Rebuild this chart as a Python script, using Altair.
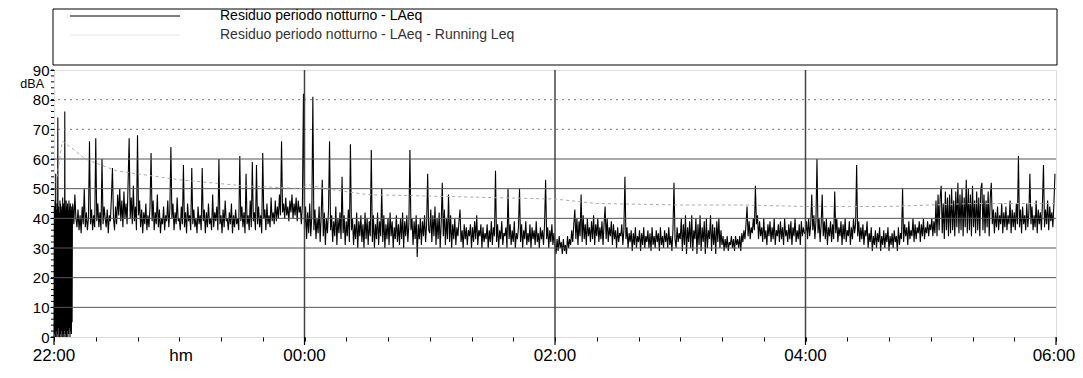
import altair as alt
import pandas as pd

# ---- LAeq samples (dBA) ----
# first minutes at 10-second steps (instrument start-up block)
start_block = [0,44,1,46,0,55,2,43,0,45,1,74,0,44,3,42,0,46,1,45,
               0,43,2,44,0,47,1,45,0,44,2,76,0,43,1,46,0,44,2,45,
               0,43,1,46,3,44,0,45,2,43,1,44,5,42]
# rest of the night at 30-second steps; h22 starts at 22:09, others on the hour
h22 = [45,38,48,40,37,43,36,41,35,44,38,50,37,42,36,40,66,38,
       43,36,41,37,67,39,45,37,42,36,60,38,44,40,37,43,35,41,
       39,47,57,40,36,44,38,48,41,50,39,46,37,49,40,45,38,52,
       67,40,47,38,51,39,44,36,68,41,46,37,43,35,42,38,45,36,
       41,37,44,62,39,46,36,42,38,48,37,43,35,40,38,44,36,41,
       39,46,37,43,64,40,45,36,42,38,47,39]
h23 = [40,36,44,38,58,37,42,35,45,39,41,36,57,38,43,37,40,35,
       44,38,41,36,57,39,43,35,42,37,45,38,40,36,48,37,42,39,
       44,36,60,38,41,35,43,37,46,39,40,36,42,38,45,35,41,37,
       43,38,40,36,61,39,44,37,42,35,55,38,41,36,46,37,59,39,
       42,36,58,38,44,37,41,35,62,40,43,36,45,38,41,37,47,39,
       42,38,46,39,44,40,48,41,66,42,45,40,47,41,44,39,46,42,
       48,40,45,41,47,39,46,42,44,38,45,82]
h00 = [36,44,33,42,35,45,34,41,81,36,43,33,40,35,44,32,41,53,
       34,42,31,40,35,43,66,36,41,32,39,34,44,31,40,35,42,33,
       54,35,41,31,39,34,43,32,65,36,40,31,38,33,42,30,39,34,
       41,32,38,30,42,33,40,31,39,34,63,32,41,30,38,33,42,31,
       39,34,50,32,41,30,38,33,40,31,42,34,39,30,37,33,41,32,
       38,31,40,33,42,30,39,34,41,32,38,63,36,40,31,39,33,41,
       27,38,33,40,31,39,34,41,32,38,55,36]
h01 = [35,43,32,41,34,44,31,40,33,42,30,39,52,34,43,31,40,33,
       48,32,41,30,38,33,40,31,37,34,39,43,32,36,30,38,33,37,
       31,36,34,38,30,37,32,39,33,41,31,36,34,38,30,37,32,35,
       33,38,30,36,32,39,31,37,34,56,32,38,30,36,33,39,31,35,
       34,37,30,50,33,38,31,36,32,39,30,35,33,37,50,32,38,30,
       36,33,39,31,35,32,38,30,37,33,36,31,39,32,35,30,37,33,
       36,31,38,53,33,37,30,36,32,38,31,35]
h02 = [31,28,33,29,34,30,32,28,33,29,31,28,34,30,33,31,36,32,
       38,43,33,40,31,39,34,48,32,41,33,38,31,40,34,37,32,39,
       33,41,31,38,34,40,32,37,33,39,31,38,44,33,40,32,37,34,
       39,31,38,33,36,30,37,32,35,34,38,31,36,54,33,37,30,35,
       32,36,29,35,31,37,30,34,32,36,29,35,31,37,30,34,32,36,
       30,35,29,37,31,34,30,36,32,35,29,37,31,34,30,36,32,35,
       30,37,31,34,29,36,52,33,30,37,32,35]
h03 = [33,40,29,38,31,41,28,37,32,39,30,41,29,36,33,40,28,38,
       31,41,29,37,32,39,28,40,30,36,33,41,29,38,31,37,28,39,
       32,40,30,36,31,34,29,33,30,34,29,32,31,34,30,33,29,34,
       31,33,30,34,29,35,32,36,33,38,44,34,39,33,37,35,40,36,
       51,38,41,33,39,34,37,32,40,33,36,31,38,34,39,32,37,33,
       40,31,36,34,38,32,39,33,37,31,40,34,36,32,38,33,39,31,
       37,34,40,32,36,33,38,31,39,34,37,35]
h04 = [35,39,33,40,34,38,48,36,41,33,39,60,35,40,32,38,48,34,
       39,33,40,31,37,34,39,32,38,33,49,35,40,32,37,34,39,31,
       38,33,40,32,36,34,39,31,37,33,40,35,38,58,34,39,32,37,
       33,38,31,36,34,39,30,35,32,37,29,34,31,36,30,35,32,37,
       29,34,31,36,30,35,32,37,29,34,31,35,30,36,32,34,29,37,
       31,35,33,50,32,38,34,37,31,39,33,36,34,40,32,38,33,37,
       35,39,32,38,34,40,33,37,35,39,34,38]
h05 = [36,40,34,39,35,46,34,48,36,47,51,35,45,33,49,36,47,34,
       48,35,50,36,46,34,49,37,52,35,48,36,50,34,47,37,53,35,
       50,36,48,34,51,37,46,35,49,36,47,34,50,52,36,48,35,46,
       37,49,34,47,52,38,43,35,42,37,44,36,41,38,45,35,42,37,
       44,36,41,38,46,35,43,37,42,36,45,38,61,37,43,35,44,38,
       41,36,45,37,42,55,38,44,36,41,37,46,35,43,38,42,36,45,
       58,37,43,38,46,36,44,39,42,37,45,55]

# ---- Running Leq, minutes from 22:00 ----
rl_t = [1, 4, 8, 15, 30, 60, 90, 119, 121, 130, 150, 180, 210, 240, 260, 300, 330, 360, 400, 440, 480]
rl_v = [52, 66, 64, 60, 56, 53, 51, 50, 51.5, 50, 48, 47.5, 47, 46.5, 45, 44.5, 44.5, 44, 44, 45, 45]

x_tick_labels = ["22:00", "00:00", "02:00", "04:00", "06:00"]
major_x = [0, 120, 240, 360, 480]
y_ticks = [0, 10, 20, 30, 40, 50, 60, 70, 80, 90]
grid_solid = [10, 20, 30, 40, 50, 60]
grid_dotted = [70, 80]
v_grid = [120, 240, 360]
minor_y = list(range(0, 91, 2))

legend_labels = ["Residuo periodo notturno - LAeq",
                 "Residuo periodo notturno - LAeq - Running Leq"]

rows = [{"t": i / 6.0, "v": v} for i, v in enumerate(start_block)]
rows += [{"t": 9 + i * 0.5, "v": v} for i, v in enumerate(h22)]
for k, lst in enumerate([h23, h00, h01, h02, h03, h04, h05]):
    rows += [{"t": (k + 1) * 60 + i * 0.5, "v": v} for i, v in enumerate(lst)]
df = pd.DataFrame(rows)
rl = pd.DataFrame({"t": rl_t, "v": rl_v})
xlab = pd.DataFrame({"t": major_x, "label": x_tick_labels})

FONT = "Liberation Sans"
W, H = 1002, 267
LAB_Y = H + 19

xscale = alt.Scale(domain=[0, 480], nice=False, zero=True)
yscale = alt.Scale(domain=[0, 90], nice=False)

xaxis = alt.Axis(values=list(range(0, 481, 20)), labels=False, grid=False,
                 tickSize=4, tickColor="black", domain=False, title=None)
yaxis = alt.Axis(values=y_ticks, grid=False, tickSize=4, tickColor="black",
                 domain=False, labelFontSize=15, labelFont=FONT, labelColor="black",
                 title=None, labelPadding=1, labelOverlap=False, labelFlush=False,
                 labelBound=False)


def X(field):
    return alt.X(field, scale=xscale, axis=xaxis)


def Y(field):
    return alt.Y(field, scale=yscale, axis=yaxis)


base_line = alt.Chart(df).mark_line(color="black", strokeWidth=1.1).encode(
    x=X("t:Q"), y=Y("v:Q"))

grid1 = alt.Chart(pd.DataFrame({"g": grid_solid})).mark_rule(
    color="#555555", strokeWidth=1).encode(y=Y("g:Q"))
grid2 = alt.Chart(pd.DataFrame({"g": grid_dotted})).mark_rule(
    color="#777777", strokeWidth=1, strokeDash=[2, 4]).encode(y=Y("g:Q"))
vgrid = alt.Chart(pd.DataFrame({"t": v_grid})).mark_rule(
    color="#444444", strokeWidth=1.5).encode(x=X("t:Q"))

xmaj = alt.Chart(pd.DataFrame({"t": major_x})).mark_rule(
    color="black", strokeWidth=1.2).encode(
    x=X("t:Q"), y=alt.value(H), y2=alt.value(H + 8))
ymin = alt.Chart(pd.DataFrame({"g": minor_y})).mark_rule(
    color="black", strokeWidth=1).encode(
    y=Y("g:Q"), x=alt.value(-3), x2=alt.value(0))

# x tick labels as text; the last one nudged inward so it stays inside the page
xlabels = alt.Chart(xlab).transform_calculate(
    tp="datum.t >= 480 ? 479 : datum.t"
).mark_text(align="center", baseline="middle", fontSize=17, font=FONT,
            color="black").encode(
    x=X("tp:Q"), y=alt.value(LAB_Y), text="label:N")

running = alt.Chart(rl).mark_line(color="#aaaaaa", strokeWidth=1, strokeDash=[3, 3]).encode(
    x=X("t:Q"), y=Y("v:Q"))

# legend box (drawn above the plot)
one = pd.DataFrame({"a": [0]})
leg_box = alt.Chart(one).mark_rect(
    fill="white", fillOpacity=0, stroke="black", strokeWidth=1).encode(
    x=alt.value(-1), x2=alt.value(W + 1), y=alt.value(-61), y2=alt.value(-5))
leg_line1 = alt.Chart(one).mark_rule(color="black", strokeWidth=1.2).encode(
    x=alt.value(16), x2=alt.value(126), y=alt.value(-54))
leg_line2 = alt.Chart(one).mark_rule(color="#e6e6e6", strokeWidth=1).encode(
    x=alt.value(16), x2=alt.value(126), y=alt.value(-35))
leg_t1 = alt.Chart(one).mark_text(
    align="left", baseline="middle", fontSize=14, font=FONT, color="black").encode(
    x=alt.value(166), y=alt.value(-54), text=alt.value(legend_labels[0]))
leg_t2 = alt.Chart(one).mark_text(
    align="left", baseline="middle", fontSize=14, font=FONT, color="#333333").encode(
    x=alt.value(166), y=alt.value(-35), text=alt.value(legend_labels[1]))

dba = alt.Chart(one).mark_text(
    align="right", baseline="middle", fontSize=12.5, font=FONT, color="black").encode(
    x=alt.value(-10), y=alt.value(14), text=alt.value("dBA"))
hm = alt.Chart(one).mark_text(
    align="center", baseline="middle", fontSize=17, font=FONT, color="black").encode(
    x=alt.value(127), y=alt.value(LAB_Y), text=alt.value("hm"))

chart = alt.layer(
    base_line, grid1, grid2, vgrid, running, xmaj, ymin, xlabels,
    leg_box, leg_line1, leg_line2, leg_t1, leg_t2, dba, hm
).properties(
    width=W, height=H,
    autosize=alt.AutoSizeParams(type="none"),
    padding={"left": 46, "top": 62, "right": 19, "bottom": 30},
).configure_view(
    stroke="black", strokeWidth=1.3
).configure(background="white")

chart.save("out.html", embed_options={"renderer": "svg", "actions": False})
